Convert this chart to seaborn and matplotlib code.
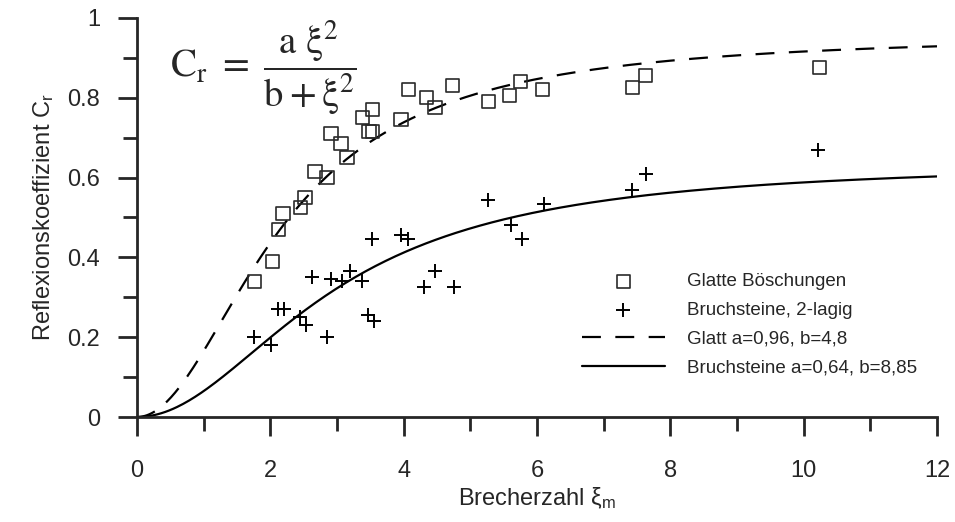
import numpy as np
import pandas as pd
import matplotlib
matplotlib.use("Agg")
import matplotlib.pyplot as plt
from matplotlib.ticker import MultipleLocator, FormatStrFormatter
import seaborn as sns

# Measured reflection coefficients
glatt_xi = [1.76, 2.03, 2.12, 2.19, 2.45, 2.52, 2.67, 2.85, 2.91, 3.06, 3.15, 3.38, 3.48, 3.53,
            3.53, 3.96, 4.07, 4.34, 4.47, 4.73, 5.27, 5.59, 5.75, 6.08, 7.43, 7.63, 10.24]
glatt_cr = [0.34, 0.39, 0.47, 0.51, 0.525, 0.55, 0.615, 0.60, 0.71, 0.685, 0.65, 0.75, 0.715, 0.715,
            0.77, 0.745, 0.82, 0.80, 0.775, 0.83, 0.79, 0.805, 0.84, 0.82, 0.825, 0.855, 0.875]

bruch_xi = [1.76, 2.01, 2.12, 2.21, 2.45, 2.54, 2.63, 2.85, 2.91, 3.08, 3.20, 3.38, 3.47, 3.53,
            3.56, 3.96, 4.07, 4.31, 4.47, 4.76, 5.27, 5.61, 5.77, 6.10, 7.43, 7.64, 10.22]
bruch_cr = [0.20, 0.18, 0.27, 0.27, 0.25, 0.23, 0.35, 0.20, 0.345, 0.34, 0.365, 0.34, 0.255, 0.445,
            0.24, 0.455, 0.445, 0.325, 0.365, 0.325, 0.545, 0.48, 0.445, 0.535, 0.57, 0.61, 0.67]

# Fit parameters of Cr = a*xi^2 / (b + xi^2)
glatt_a, glatt_b = 0.96, 4.8
bruch_a, bruch_b = 0.64, 8.85

labels = ["Glatte Böschungen", "Bruchsteine, 2-lagig",
          "Glatt a=0,96, b=4,8", "Bruchsteine a=0,64, b=8,85"]

sns.set_style("ticks")
plt.rcParams["font.family"] = ["Liberation Sans", "DejaVu Sans"]
plt.rcParams["mathtext.fontset"] = "custom"
plt.rcParams["mathtext.rm"] = "Liberation Sans"
plt.rcParams["mathtext.it"] = "Liberation Sans:italic"
plt.rcParams["mathtext.bf"] = "Liberation Sans:bold"

fig = plt.figure(figsize=(9.55, 5.22), dpi=100)
ax = fig.add_axes([137 / 955, 1 - 417 / 522, 800 / 955, 399 / 522])

xi = np.linspace(0, 12, 400)
fits = pd.DataFrame({
    "xi": xi,
    "glatt": glatt_a * xi**2 / (glatt_b + xi**2),
    "bruch": bruch_a * xi**2 / (bruch_b + xi**2),
})

sns.lineplot(data=fits, x="xi", y="glatt", ax=ax, color="black", lw=1.6,
             linestyle=(0, (8.5, 6.5)), label=labels[2], legend=False)
sns.lineplot(data=fits, x="xi", y="bruch", ax=ax, color="black", lw=1.6,
             label=labels[3], legend=False)

sns.scatterplot(x=glatt_xi, y=glatt_cr, ax=ax, marker="s", s=90, facecolors="none",
                edgecolors="#2a2a2a", linewidths=1.2, label=labels[0], legend=False, zorder=3)
sns.scatterplot(x=bruch_xi, y=bruch_cr, ax=ax, marker="+", s=100, color="black",
                linewidths=1.4, label=labels[1], legend=False, zorder=3)

ax.set_xlim(0, 12)
ax.set_ylim(0, 1)
ax.xaxis.set_major_locator(MultipleLocator(2))
ax.xaxis.set_minor_locator(MultipleLocator(1))
ax.yaxis.set_major_locator(MultipleLocator(0.2))
ax.yaxis.set_minor_locator(MultipleLocator(0.1))
ax.yaxis.set_major_formatter(FormatStrFormatter("%g"))
ax.tick_params(which="major", length=14, width=2, labelsize=17)
ax.tick_params(which="minor", length=10, width=2)
ax.tick_params(axis="x", which="major", pad=17)
ax.tick_params(axis="y", which="major", pad=12.5)
sns.despine(ax=ax)
for sp in ("left", "bottom"):
    ax.spines[sp].set_linewidth(2)

ax.set_xlabel(r"Brecherzahl $\mathrm{\xi}_\mathrm{m}$", fontsize=17, labelpad=2)
ax.set_ylabel(r"Reflexionskoeffizient C$_\mathrm{r}$", fontsize=17, labelpad=8)

fig.text(170 / 955, 1 - 68 / 522,
         r"$\mathrm{C_r}\ =\ \dfrac{\mathrm{a\ \xi^2}}{\mathrm{b + \xi^2}}$",
         fontsize=28, ha="left", va="center", math_fontfamily="stix")

handles, hlabels = ax.get_legend_handles_labels()
order = [hlabels.index(l) for l in labels]
ax.legend([handles[i] for i in order], labels, loc="upper left",
          bbox_to_anchor=(582 / 955, 1 - 273 / 522), bbox_transform=fig.transFigure,
          frameon=False, fontsize=13.5, handlelength=4.4, handletextpad=1.2,
          labelspacing=0.62, borderpad=0, borderaxespad=0)

fig.savefig("out.png", dpi=100)
